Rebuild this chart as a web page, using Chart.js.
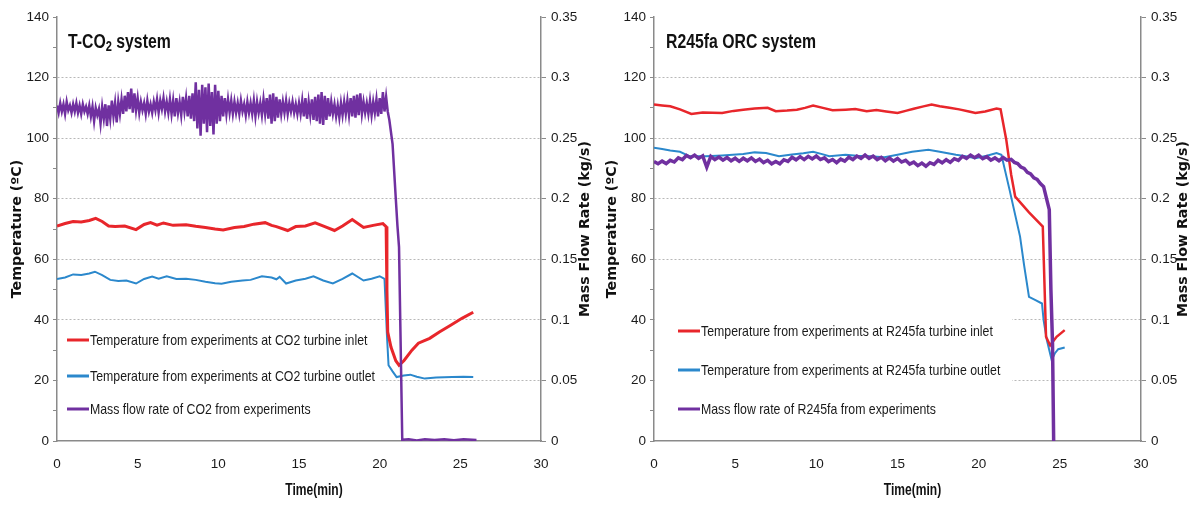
<!DOCTYPE html>
<html>
<head>
<meta charset="utf-8">
<script src="https://cdn.jsdelivr.net/npm/chart.js@4.4.1/dist/chart.umd.min.js"></script>
<style>
  body { margin: 0; background: #fff; }
  #wrap { position: relative; width: 1195px; height: 507px; }
  canvas { position: absolute; top: 0; }
</style>
</head>
<body>
<div id="wrap">
  <canvas id="co2Chart" width="597" height="507" style="left:0"></canvas>
  <canvas id="orcChart" width="600" height="507" style="left:595px"></canvas>
</div>
<script>
// ---- data (time in min, temperature in degC, flow in kg/s) ----
const co2Inlet = [[0,71],[0.5,71.8],[1,72.5],[1.5,72.3],[2,72.8],[2.4,73.5],[2.8,72.5],[3.2,71],[3.6,70.8],[4.2,71],[4.9,69.8],[5.4,71.5],[5.8,72.1],[6.2,71.3],[6.6,72],[7.2,71.2],[8,71.4],[8.6,70.9],[9.2,70.5],[9.8,70],[10.3,69.7],[11,70.5],[11.6,70.8],[12.2,71.6],[12.9,72.1],[13.3,71.2],[13.6,70.8],[14.3,69.5],[14.8,70.8],[15.4,71],[16,72],[16.6,70.8],[17.2,69.5],[17.7,71],[18.3,73.1],[19,70.5],[19.6,71.2],[20.2,71.8],[20.4,70.8],[20.45,50],[20.5,36],[20.7,31],[21,26.5],[21.2,25],[21.5,26.5],[22,30],[22.4,32.3],[23.1,33.9],[23.7,36],[24.4,38.2],[25.1,40.5],[25.8,42.5]];

const co2Outlet = [[0,53.5],[0.5,54],[1,55],[1.5,54.8],[2,55.3],[2.35,55.9],[2.8,54.8],[3.3,53.2],[3.8,52.8],[4.3,53],[4.9,52],[5.4,53.5],[5.9,54.3],[6.3,53.6],[6.8,54.4],[7.4,53.5],[8,53.6],[8.6,53.2],[9.2,52.6],[9.8,52.1],[10.2,51.9],[10.8,52.6],[11.5,53],[12,53.2],[12.7,54.4],[13.3,54],[13.6,53.4],[13.8,54.2],[14.2,52],[14.8,53],[15.4,53.6],[15.9,54.4],[16.5,53],[17.1,52],[17.7,53.5],[18.3,55.3],[19,53],[19.5,53.6],[20,54.4],[20.3,53.5],[20.45,35],[20.55,25],[20.8,23],[21.05,21.1],[21.5,21.6],[21.9,21.9],[22.3,21.2],[22.8,20.6],[23.5,21],[24.5,21.1],[25.2,21.2],[25.8,21.1]];

// CO2 mass flow, sampled every 0.1 min from t = 0 (noisy steady part)
const co2FlowStep = 0.1;
const co2FlowSteady = [
  0.277,0.271,0.279,0.272,0.278,0.270,0.280,0.273,0.277,0.271,0.278,0.272,0.279,0.271,0.277,0.270,0.278,0.272,0.276,0.270,
  0.277,0.268,0.276,0.264,0.275,0.269,0.274,0.262,0.276,0.266,
  0.278,0.260,0.277,0.266,0.281,0.268,0.279,0.263,0.280,0.270,
  0.282,0.270,0.285,0.272,0.288,0.274,0.291,0.271,0.287,0.273,
  0.283,0.271,0.280,0.273,0.279,0.270,0.281,0.272,0.278,0.271,
  0.280,0.273,0.282,0.271,0.281,0.274,0.283,0.272,0.280,0.271,
  0.282,0.270,0.281,0.268,0.283,0.271,0.280,0.269,0.284,0.272,
  0.283,0.268,0.285,0.266,0.287,0.264,0.296,0.258,0.290,0.252,
  0.294,0.262,0.292,0.255,0.295,0.260,0.288,0.253,0.294,0.262,
  0.289,0.264,0.285,0.268,0.283,0.270,0.282,0.271,0.281,0.270,
  0.280,0.271,0.279,0.270,0.281,0.272,0.278,0.269,0.280,0.271,
  0.279,0.270,0.281,0.268,0.280,0.271,0.279,0.269,0.282,0.270,
  0.283,0.266,0.286,0.262,0.287,0.264,0.284,0.267,0.282,0.270,
  0.280,0.271,0.281,0.270,0.279,0.272,0.280,0.271,0.278,0.270,
  0.279,0.270,0.281,0.268,0.283,0.266,0.280,0.269,0.282,0.265,
  0.284,0.264,0.286,0.262,0.288,0.261,0.285,0.265,0.283,0.268,
  0.280,0.270,0.278,0.268,0.277,0.267,0.279,0.269,0.280,0.270,
  0.281,0.269,0.283,0.268,0.285,0.267,0.286,0.269,0.287,0.270,
  0.280,0.271,0.279,0.270,0.281,0.269,0.280,0.271,0.282,0.268,
  0.283,0.270,0.288,0.272,0.284
];
const co2FlowShutdown = [[20.5,0.272],[20.6,0.265],[20.8,0.245],[21.0,0.2],[21.1,0.178],[21.2,0.16],[21.4,0.001],[21.8,0.0015],[22.3,0.0005],[22.8,0.0015],[23.4,0.0008],[24,0.0015],[24.6,0.0006],[25.2,0.0014],[26,0.0008]];

const orcInlet = [[0,111.1],[0.5,110.8],[1,110.5],[1.6,109.5],[2.3,108],[3,108.5],[3.6,108.4],[4.2,108.3],[4.9,109],[5.5,109.4],[6.2,109.8],[7,110],[7.5,108.9],[8.2,109.1],[8.8,109.4],[9.3,110],[9.8,110.8],[10.4,110],[11,109.2],[11.8,109.4],[12.4,109.6],[13.1,108.9],[13.7,109.3],[14.3,108.8],[15,108.3],[15.5,109],[16,109.7],[16.6,110.5],[17.1,111.1],[17.6,110.5],[18.2,110],[18.8,109.5],[19.4,108.8],[19.8,108.3],[20.4,108.8],[21.1,109.8],[21.35,109.5],[21.7,99.5],[22.0,88],[22.25,80.7],[23.1,75.5],[23.95,70.8],[24.15,34.4],[24.4,31.6],[24.8,34.4],[25.3,36.6]];

const orcOutlet = [[0,96.8],[0.5,96.4],[1,95.9],[1.6,95.5],[2.2,94],[3.2,94],[4.2,94.3],[5.5,94.8],[6.2,95.3],[6.9,95.1],[7.7,94],[8.5,94.6],[9.2,95],[9.8,95.5],[10.3,94.8],[10.8,94],[11.8,94.5],[12.5,94.2],[13.3,94],[14.2,93.7],[15,94.5],[15.9,95.5],[16.9,96.2],[17.6,95.5],[18.6,94.5],[19.2,94],[19.8,93.4],[20.5,94.2],[21.1,95.1],[21.4,94.5],[21.9,83],[22.55,67.5],[22.8,58],[23.1,47.6],[23.5,46.5],[23.9,45.4],[24.0,39.9],[24.2,33.3],[24.5,26.7],[24.7,29],[24.9,30.3],[25.3,30.9]];

// R245fa mass flow, sampled every 0.25 min from t = 0
const orcFlowStep = 0.25;
const orcFlowSteady = [
  0.2307,0.2288,0.2310,0.2290,0.2317,0.2303,0.2337,0.2323,0.2357,0.2338,
  0.2360,0.2333,0.2354,0.2260,0.2350,0.2323,0.2344,0.2318,0.2340,0.2313,
  0.2334,0.2308,0.2334,0.2313,0.2337,0.2308,0.2327,0.2298,0.2317,0.2288,
  0.2307,0.2288,0.2322,0.2308,0.2342,0.2321,0.2347,0.2323,0.2350,0.2328,
  0.2352,0.2323,0.2337,0.2306,0.2324,0.2298,0.2327,0.2310,0.2342,0.2323,
  0.2352,0.2333,0.2360,0.2333,0.2352,0.2323,0.2342,0.2313,0.2337,0.2310,
  0.2332,0.2303,0.2317,0.2286,0.2302,0.2273,0.2294,0.2268,0.2297,0.2283,
  0.2317,0.2296,0.2322,0.2300,0.2330,0.2316,0.2350,0.2333,0.2360,0.2338,
  0.2360,0.2330,0.2347,0.2318,0.2337,0.2313,0.2340,0.2318
];
const orcFlowShutdown = [[22.0,0.2325],[22.2,0.2300],[22.4,0.2290],[22.6,0.2262],[22.8,0.2250],[23.0,0.2218],[23.2,0.2205],[23.4,0.2172],[23.6,0.2160],[23.8,0.2125],[24.0,0.2100],[24.2,0.199],[24.35,0.191],[24.45,0.125],[24.55,0.08],[24.62,0]];

const seriesLabels = {
  co2: ['Temperature from experiments at CO2 turbine inlet',
        'Temperature from experiments at CO2 turbine outlet',
        'Mass flow rate of CO2 from experiments'],
  orc: ['Temperature from experiments at R245fa turbine inlet',
        'Temperature from experiments at R245fa turbine outlet',
        'Mass flow rate of R245fa from experiments']
};

const RED = '#e8262b', BLUE = '#2b88cc', PURPLE = '#7030a0';
const SANS = "'Liberation Sans', Arial, sans-serif";
const WIDE_BOLD = "'DejaVu Sans', Verdana, sans-serif";

function toXY(pairs) { return pairs.map(p => ({x: p[0], y: p[1]})); }
function stepped(vals, step) { return vals.map((v, i) => ({x: +(i * step).toFixed(2), y: v})); }

// text squeezed horizontally, to get the narrow face of the original
function narrowText(ctx, txt, x, y, sx) {
  ctx.save();
  ctx.translate(x, y);
  ctx.scale(sx, 1);
  ctx.fillText(txt, 0, 0);
  ctx.restore();
  return ctx.measureText(txt).width * sx;
}

// draws panel title, legend box and the axis titles
const overlay = {
  id: 'overlay',
  afterDatasetsDraw(chart, args, o) {
    const {ctx, chartArea: a} = chart;
    ctx.save();
    // legend box hides the grid lines behind it
    ctx.fillStyle = '#fff';
    ctx.fillRect(a.left + 1, o.box[0], o.box[1] - a.left - 1, o.box[2] - o.box[0]);
    ctx.font = '14.5px ' + SANS;
    ctx.textBaseline = 'middle';
    o.items.forEach((it, i) => {
      const y = o.rows[i];
      ctx.strokeStyle = it.color;
      ctx.lineWidth = 3;
      ctx.beginPath();
      ctx.moveTo(o.lx, y); ctx.lineTo(o.lx + 22, y);
      ctx.stroke();
      ctx.fillStyle = '#1a1a1a';
      narrowText(ctx, it.text, o.lx + 23, y + 0.5, 0.85);
    });
    // panel title with subscript
    ctx.fillStyle = '#111';
    ctx.textBaseline = 'alphabetic';
    let x = o.tx;
    o.title.forEach(part => {
      ctx.font = 'bold ' + (part.sub ? 14 : 20) + 'px ' + SANS;
      x += narrowText(ctx, part.t, x, part.sub ? 51 : 47.5, 0.79);
    });
    // x title
    ctx.font = 'bold 17px ' + SANS;
    ctx.textAlign = 'center';
    ctx.textBaseline = 'middle';
    narrowText(ctx, 'Time(min)', (a.left + a.right) / 2 + 15, 490, 0.71);
    // y titles, both reading bottom to top
    const cy = (a.top + a.bottom) / 2;
    ctx.font = 'bold 14.2px ' + WIDE_BOLD;
    [[o.yl, 'Temperature (\u00baC)'], [o.yr, 'Mass Flow Rate (kg/s)']].forEach(([px, txt]) => {
      ctx.save();
      ctx.translate(px, cy);
      ctx.rotate(-Math.PI / 2);
      ctx.fillText(txt, 0, 0);
      ctx.restore();
    });
    ctx.restore();
  }
};

function makeChart(id, d) {
  return new Chart(document.getElementById(id), {
    type: 'line',
    data: {
      datasets: [
        {label: d.labels[2], data: d.flow, yAxisID: 'y1', borderColor: PURPLE, borderWidth: d.flowWidth, order: 0},
        {label: d.labels[0], data: d.inlet, yAxisID: 'y', borderColor: RED, borderWidth: d.redWidth, order: 1},
        {label: d.labels[1], data: d.outlet, yAxisID: 'y', borderColor: BLUE, borderWidth: 2, order: 2}
      ]
    },
    options: {
      responsive: false,
      animation: false,
      elements: { point: { radius: 0 }, line: { tension: 0, fill: false } },
      layout: { padding: { top: 17, left: 0, right: 0, bottom: 0 } },
      plugins: {
        legend: { display: false },
        tooltip: { enabled: false },
        overlay: d.overlay
      },
      scales: {
        x: {
          type: 'linear', min: 0, max: 30,
          ticks: { stepSize: 5, padding: 15, color: '#1a1a1a', font: { family: SANS, size: 13.5 } },
          grid: { drawOnChartArea: false, drawTicks: false },
          border: { color: '#8a8a8a', width: 1.5 },
          afterFit: s => { s.height = 66; }
        },
        y: {
          position: 'left', min: 0, max: 140,
          ticks: {
            stepSize: 10, padding: 4, color: '#1a1a1a', font: { family: SANS, size: 13.5 },
            callback: v => (v % 20 === 0 ? v : '')
          },
          grid: {
            color: c => (c.tick && c.tick.value % 20 === 0 && c.tick.value > 0 && c.tick.value < 140) ? '#b8b8b8' : 'rgba(0,0,0,0)',
            tickColor: '#8a8a8a', tickLength: 4
          },
          border: { color: '#8a8a8a', width: 1.5, dash: [2, 2] },
          afterFit: s => { s.width = d.leftW; }
        },
        y1: {
          position: 'right', min: 0, max: 0.35,
          ticks: {
            stepSize: 0.05, padding: 5, color: '#1a1a1a', font: { family: SANS, size: 13.5 },
            callback: v => String(+v.toFixed(2))
          },
          grid: { drawOnChartArea: false, tickColor: '#8a8a8a', tickLength: 5 },
          border: { color: '#8a8a8a', width: 1.5 },
          afterFit: s => { s.width = d.rightW; }
        }
      }
    },
    plugins: [overlay]
  });
}

makeChart('co2Chart', {
  labels: seriesLabels.co2,
  inlet: toXY(co2Inlet),
  outlet: toXY(co2Outlet),
  flow: stepped(co2FlowSteady, co2FlowStep).concat(toXY(co2FlowShutdown)),
  flowWidth: 2.5, redWidth: 3,
  leftW: 57, rightW: 56,
  overlay: {
    box: [324, 380, 432], rows: [340, 376, 409], lx: 67,
    items: [{color: RED, text: seriesLabels.co2[0]}, {color: BLUE, text: seriesLabels.co2[1]}, {color: PURPLE, text: seriesLabels.co2[2]}],
    title: [{t: 'T-CO'}, {t: '2', sub: true}, {t: ' system'}], tx: 68,
    yl: 17, yr: 585
  }
});

makeChart('orcChart', {
  labels: seriesLabels.orc,
  inlet: toXY(orcInlet),
  outlet: toXY(orcOutlet),
  flow: stepped(orcFlowSteady, orcFlowStep).concat(toXY(orcFlowShutdown)),
  flowWidth: 3.5, redWidth: 2.5,
  leftW: 59, rightW: 54,
  overlay: {
    box: [312, 417, 432], rows: [331, 370, 409], lx: 83,
    items: [{color: RED, text: seriesLabels.orc[0]}, {color: BLUE, text: seriesLabels.orc[1]}, {color: PURPLE, text: seriesLabels.orc[2]}],
    title: [{t: 'R245fa ORC system'}], tx: 71,
    yl: 17, yr: 588
  }
});
</script>
</body>
</html>
